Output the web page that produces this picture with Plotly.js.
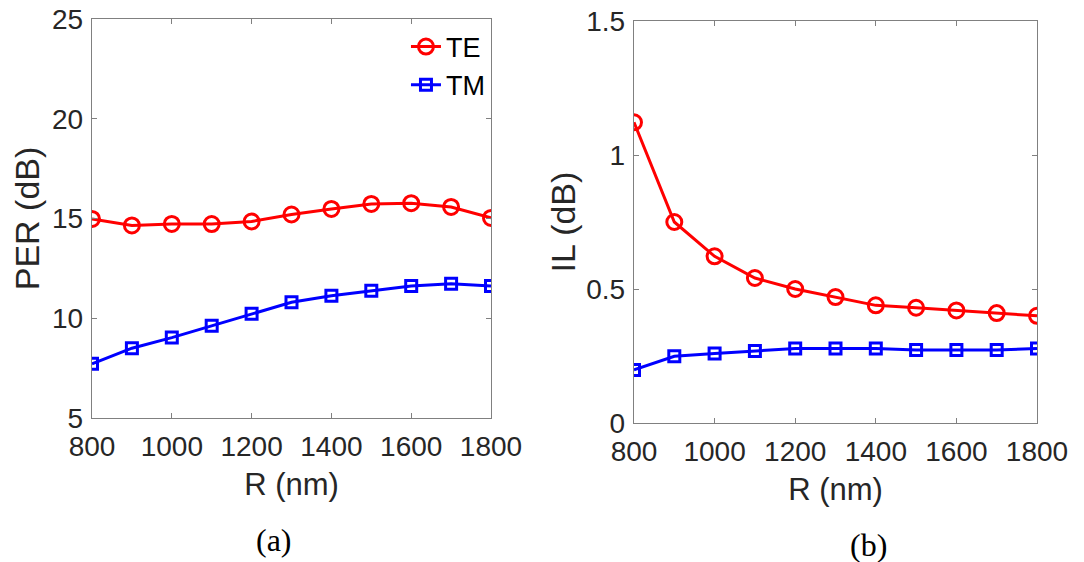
<!DOCTYPE html>
<html>
<head>
<meta charset="utf-8">
<script src="https://cdn.plot.ly/plotly-3.0.1.min.js"></script>
<style>html,body{margin:0;padding:0;background:#fff;}#chart{width:1084px;height:562px;}</style>
</head>
<body>
<div id="chart"></div>
<script>
// Data
const R = [800, 900, 1000, 1100, 1200, 1300, 1400, 1500, 1600, 1700, 1800];
const PER_TE = [14.98, 14.65, 14.73, 14.72, 14.85, 15.2, 15.48, 15.73, 15.77, 15.58, 15.03];
const PER_TM = [7.72, 8.5, 9.03, 9.62, 10.22, 10.8, 11.13, 11.38, 11.62, 11.73, 11.62];
const IL_TE = [1.122, 0.75, 0.622, 0.541, 0.5, 0.47, 0.439, 0.43, 0.42, 0.41, 0.40];
const IL_TM = [0.198, 0.249, 0.259, 0.269, 0.278, 0.278, 0.278, 0.272, 0.272, 0.272, 0.278];
const xTicks = [800, 1000, 1200, 1400, 1600, 1800];
const perTicks = [5, 10, 15, 20, 25];
const ilTicks = [0, 0.5, 1, 1.5];
const ilTickText = ['0', '0.5', '1', '1.5'];

const RED = '#ff0000', BLUE = '#0000ff';
const FONT = 'Liberation Sans, Arial, sans-serif';
const TXT = '#262626';

const traces = [
  {x: R, y: PER_TE, name: 'TE', type: 'scatter', mode: 'lines+markers', xaxis: 'x', yaxis: 'y',
   line: {color: RED, width: 3}, marker: {symbol: 'circle-open', size: 15, color: RED, line: {width: 3, color: RED}}},
  {x: R, y: PER_TM, name: 'TM', type: 'scatter', mode: 'lines+markers', xaxis: 'x', yaxis: 'y',
   line: {color: BLUE, width: 3}, marker: {symbol: 'square-open', size: 11, color: BLUE, line: {width: 3, color: BLUE}}},
  {x: R, y: IL_TE, name: 'TE', type: 'scatter', mode: 'lines+markers', xaxis: 'x2', yaxis: 'y2', showlegend: false,
   line: {color: RED, width: 3}, marker: {symbol: 'circle-open', size: 15, color: RED, line: {width: 3, color: RED}}},
  {x: R, y: IL_TM, name: 'TM', type: 'scatter', mode: 'lines+markers', xaxis: 'x2', yaxis: 'y2', showlegend: false,
   line: {color: BLUE, width: 3}, marker: {symbol: 'square-open', size: 11, color: BLUE, line: {width: 3, color: BLUE}}}
];

function xax(domain, anchor) {
  return {
    domain: domain, anchor: anchor, range: [800, 1800], tickvals: xTicks,
    showline: true, linecolor: '#808080', linewidth: 1.3, mirror: 'ticks',
    ticks: 'inside', ticklen: 5, tickcolor: '#808080', tickwidth: 1,
    showgrid: false, zeroline: false, ticklabelstandoff: 3,
    tickfont: {family: FONT, size: 28, color: TXT},
    title: {text: 'R (nm)', font: {family: FONT, size: 31, color: TXT}, standoff: 12}
  };
}
function yax(domain, anchor, range, ticks, text, title, standoff) {
  const a = {
    domain: domain, anchor: anchor, range: range, tickvals: ticks,
    showline: true, linecolor: '#808080', linewidth: 1.3, mirror: 'ticks',
    ticks: 'inside', ticklen: 5, tickcolor: '#808080', tickwidth: 1,
    showgrid: false, zeroline: false, ticklabelstandoff: 2,
    tickfont: {family: FONT, size: 28, color: TXT},
    title: {text: title, font: {family: FONT, size: 34, color: TXT}, standoff: standoff}
  };
  if (text) a.ticktext = text;
  return a;
}

const layout = {
  width: 1084, height: 562,
  margin: {l: 0, r: 0, t: 0, b: 0},
  paper_bgcolor: '#fff', plot_bgcolor: '#fff',
  showlegend: true,
  legend: {x: 0.452, y: 0.96, xanchor: 'right', yanchor: 'top', bgcolor: 'rgba(0,0,0,0)',
           font: {family: FONT, size: 27, color: '#000'}, tracegroupgap: 0, itemwidth: 30},
  xaxis: xax([92/1084, 491/1084], 'y'),
  yaxis: yax([1 - 418/562, 1 - 19/562], 'x', [5, 25], perTicks, null, 'PER (dB)', 2),
  xaxis2: xax([634/1084, 1037/1084], 'y2'),
  yaxis2: yax([1 - 423/562, 1 - 21/562], 'x2', [0, 1.5], ilTicks, ilTickText, 'IL (dB)', 0),
  annotations: [
    {text: '(a)', x: 274/1084, y: 1 - 540/562, xref: 'paper', yref: 'paper', showarrow: false,
     xanchor: 'center', yanchor: 'middle', font: {family: 'Liberation Serif, Times New Roman, serif', size: 32, color: '#000'}},
    {text: '(b)', x: 868/1084, y: 1 - 545/562, xref: 'paper', yref: 'paper', showarrow: false,
     xanchor: 'center', yanchor: 'middle', font: {family: 'Liberation Serif, Times New Roman, serif', size: 32, color: '#000'}}
  ]
};

Plotly.newPlot('chart', traces, layout, {displayModeBar: false, staticPlot: true});
</script>
</body>
</html>
